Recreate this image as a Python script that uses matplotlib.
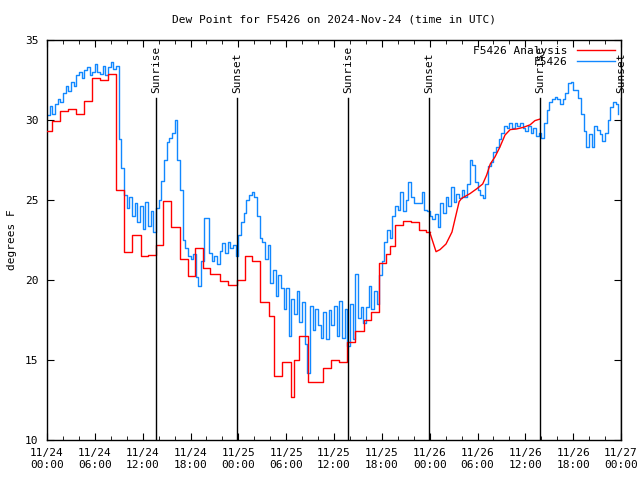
import matplotlib
matplotlib.use("Agg")
import matplotlib.pyplot as plt
import matplotlib.dates as mdates
import pandas as pd
import numpy as np

start = pd.Timestamp("2024-11-24 00:00")

# station observations, every 20 minutes (hours since 11/24 00:00 = index / 3)
obs_vals = [
    30.3, 30.9, 30.4, 31.0, 31.3, 31.1, 31.7, 32.1, 31.8, 32.4, 32.1, 32.8,
    33.0, 32.6, 33.1, 33.3, 32.8, 33.0, 33.5, 33.0, 32.9, 33.4, 32.8, 33.3,
    33.6, 33.2, 33.4, 28.8, 27.0, 25.3, 24.5, 25.2, 24.0, 24.8, 23.6, 24.6,
    23.2, 24.9, 23.4, 24.3, 23.0, 24.5, 25.0, 26.2, 27.5, 28.6, 28.9, 29.2,
    30.0, 27.5, 25.6, 22.5, 22.0, 21.5, 21.3, 21.6, 20.2, 19.6, 21.2, 23.9,
    23.9, 21.7, 21.2, 21.5, 21.0, 21.8, 22.3, 21.7, 22.4, 22.0, 22.2, 21.5,
    22.8, 23.6, 24.2, 25.0, 25.3, 25.5, 25.2, 24.0, 22.6, 22.4, 21.3, 22.2,
    19.8, 20.6, 19.0, 20.3, 19.5, 18.2, 19.5, 16.5, 18.8, 17.9, 19.3, 17.4,
    18.6, 16.0, 14.2, 18.4, 16.9, 18.2, 17.2, 16.4, 18.0, 16.3, 18.1, 17.2,
    18.4, 16.5, 18.7, 16.4, 18.2, 15.9, 18.5, 16.3, 20.4, 17.6, 18.3, 17.3,
    18.3, 19.6, 18.2, 19.3, 18.5, 20.3, 21.2, 22.4, 23.1, 22.6, 24.0, 24.6,
    24.4, 25.5, 24.3, 25.0, 26.1, 25.2, 24.8, 24.8, 24.8, 25.5, 24.4, 24.3,
    24.0, 23.8, 24.1, 23.3, 24.8, 24.2, 25.2, 24.6, 25.8, 24.9, 25.4, 25.1,
    25.6, 25.2, 26.0, 27.5, 27.2, 26.1, 25.6, 25.3, 25.1, 26.0, 27.1, 27.4,
    28.0, 28.3, 28.8, 29.2, 29.6, 29.5, 29.8, 29.5, 29.8, 29.6, 29.8, 29.5,
    29.3, 29.6, 29.2, 29.5, 29.0, 29.2, 28.9, 29.8, 30.6, 31.1, 31.3, 31.45,
    31.3, 31.0, 31.3, 31.7, 32.3, 32.4, 31.9, 31.9, 31.4, 30.4, 29.3, 28.3,
    29.1, 28.3, 29.6, 29.4, 29.1, 28.7, 29.2, 30.0, 30.8, 31.1, 31.0, 30.4,
]
obs_hours = np.arange(len(obs_vals)) / 3.0

# analysis, hourly steps (hour at which each step starts)
ana_step_hours = [0, 0.66, 1.6, 2.6, 3.7, 4.6, 5.7, 6.6, 7.6, 8.7, 9.6, 10.7,
                  11.8, 12.7, 13.7, 14.6, 15.6, 16.7, 17.7, 18.6, 19.6, 20.5,
                  21.7, 22.7, 23.8, 24.8, 25.7, 26.7, 27.8, 28.5, 29.5, 30.6,
                  31.0, 31.6, 32.7, 33.7, 34.6, 35.6, 36.6, 37.6, 38.6, 39.8,
                  40.7, 41.7, 42.5, 43.0, 43.7, 44.6, 45.6, 46.7, 47.6, 48.0]
ana_step_vals = [29.33, 29.96, 30.56, 30.69, 30.38, 31.19, 32.6, 32.5, 32.9,
                 25.6, 21.77, 22.8, 21.5, 21.56, 22.2, 24.96, 23.33, 21.3,
                 20.25, 22.0, 20.75, 20.4, 19.94, 19.7, 20.0, 21.5, 21.2, 18.6,
                 17.75, 14.0, 14.9, 12.7, 15.0, 16.5, 13.6, 13.65, 14.5, 15.0,
                 14.85, 16.1, 16.8, 17.5, 18.0, 21.06, 21.6, 22.1, 23.44, 23.7,
                 23.65, 23.1, 23.0, 23.0]

# analysis, later part (smooth)
ana_line_hours = [48.0, 48.8, 49.3, 50.05, 50.8, 51.2, 51.7, 52.0, 53.06, 53.9,
                  54.65, 55.15, 55.6, 56.2, 56.8, 57.45, 58.1, 58.9, 59.75,
                  60.6, 61.2, 61.85]
ana_line_vals = [23.0, 21.77, 21.9, 22.25, 23.0, 23.85, 24.9, 25.1, 25.4, 25.7,
                 26.0, 26.56, 27.25, 27.7, 28.3, 29.06, 29.4, 29.44, 29.54,
                 29.7, 29.96, 30.06]

sun_hours = [13.67, 23.83, 37.76, 47.92, 61.84, 72.0]
sun_labels = ["Sunrise", "Sunset", "Sunrise", "Sunset", "Sunrise", "Sunset"]


def to_time(h):
    return start + pd.to_timedelta(np.asarray(h, dtype=float), unit="h")


plt.rcParams["font.family"] = "DejaVu Sans Mono"
plt.rcParams["font.size"] = 8

fig = plt.figure(figsize=(6.4, 4.8), dpi=100)
ax = fig.add_axes([47 / 640, 40 / 480, 574 / 640, 400 / 480])

ax.plot(to_time(obs_hours), obs_vals, color="#1188ff", lw=1.0,
        drawstyle="steps-post", label="F5426", zorder=2)
ax.plot(to_time(ana_step_hours), ana_step_vals, color="red", lw=1.0,
        drawstyle="steps-post", zorder=3, label="F5426 Analysis")
ax.plot(to_time(ana_line_hours), ana_line_vals, color="red", lw=1.0, zorder=3)

for h, lab in zip(sun_hours, sun_labels):
    t = to_time([h])[0]
    ax.plot([t, t], [10, 31.4], color="black", lw=1.0, zorder=4)
    ax.text(t, 31.7, lab, rotation=90, ha="center", va="bottom", fontsize=8)

ax.set_xlim(start, start + pd.Timedelta(hours=72))
ax.set_ylim(10, 35)
ax.set_yticks([10, 15, 20, 25, 30, 35])
ax.xaxis.set_major_locator(mdates.HourLocator(byhour=[0, 6, 12, 18]))
ax.xaxis.set_minor_locator(mdates.HourLocator(byhour=range(0, 24, 2)))
ax.xaxis.set_major_formatter(mdates.DateFormatter("%m/%d\n%H:%M"))
ax.tick_params(which="both", direction="in", top=True, right=True,
               labelsize=8, pad=6)
ax.tick_params(which="major", length=5)
ax.tick_params(which="minor", length=3)
for s in ax.spines.values():
    s.set_linewidth(1.0)

ax.set_ylabel("degrees F", fontsize=8, labelpad=6)
fig.text(334 / 640, 1 - 20 / 480, "Dew Point for F5426 on 2024-Nov-24 (time in UTC)",
         ha="center", va="center", fontsize=8)

handles, labels = ax.get_legend_handles_labels()
leg = ax.legend(handles[::-1], labels[::-1], loc="upper right", frameon=False,
                markerfirst=False, handlelength=3.5, borderaxespad=0.1,
                labelspacing=0.1, fontsize=8)

fig.savefig("out.png", dpi=100)
